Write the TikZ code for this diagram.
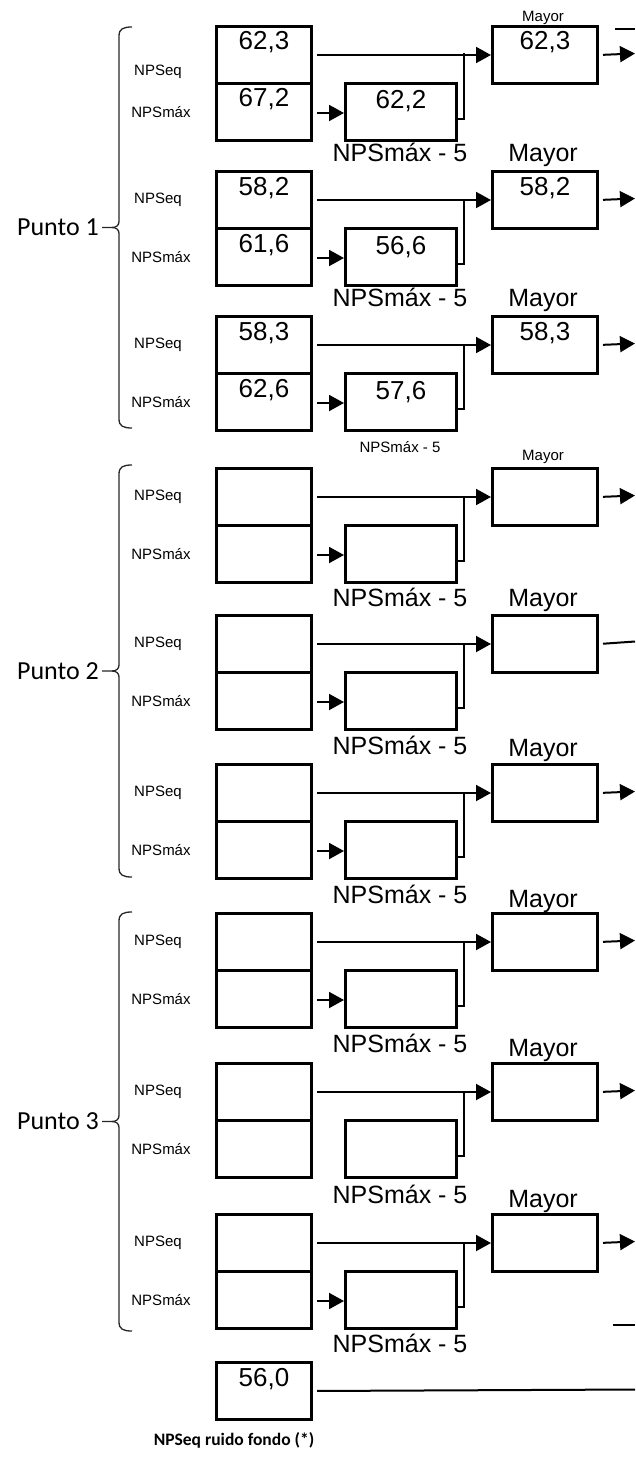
\documentclass[tikz,border=0pt]{standalone}
\usepackage{fontspec}
\setmainfont{Liberation Sans}
\newfontfamily\calibrifont{Carlito}
\usetikzlibrary{arrows.meta}
\newcommand\unitrow[7]{%
  \node[valbox] (#1e) at (215,#2) {};
  \node[valbox] (#1m) at (215,#2+57) {};
  \node[midbox] (#1r) at (344,#2+57) {};
  \node[maybox] (#1y) at (491,#2) {};
  \node[numtxt] (#1et) at ([yshift=-25pt]#1e.north) {#3};
  \node[numtxt] (#1mt) at ([yshift=-25pt]#1m.north) {#4};
  \node[numtxt] (#1rt) at ([yshift=-27pt]#1r.north) {#5};
  \node[numtxt] (#1yt) at ([yshift=-25pt]#1y.north) {#6};
  \coordinate (#1j) at (464,#2+28.5);
  \coordinate (#1k) at (464,#2+94);
  \coordinate (#1a) at (330,#2+88);
  \coordinate (#1o) at (635,#2+28.5);
  \draw[arr,shorten <=4pt] (#1e.east) -- (#1y.west);
  \draw[conn] (#1r.east |- #1k) -| (#1j);
  \node[sidetxt] (#1ls) at (158,#2+#7) {NPSeq};
  \node[sidetxt] (#1lm) at (161,#2+87) {NPSmáx};
}
\newcommand\midarrow[1]{\draw[arr,shorten <=4pt] (#1m.east |- #1a) -- (#1r.west |- #1a);}
\newcommand\outarrow[1]{\draw[arr,shorten <=4pt] (#1y.east) -- (#1o);}
\newcommand\outline[1]{\draw[conn,shorten <=4pt] (#1y.east) -- ([yshift=1pt]#1o);}
\newcommand\bracegroup[4]{%
  \pgfmathsetmacro\bmid{(#1+#2)/2}%
  \draw[brace] (132,#1) .. controls (123,#1) and (119,#1+2) .. (119,#1+9)
    -- (119,\bmid-6) .. controls (119,\bmid-2) and (116,\bmid) .. (112,\bmid)
    -- (102,\bmid);
  \draw[brace] (112,\bmid) .. controls (116,\bmid) and (119,\bmid+2) .. (119,\bmid+6)
    -- (119,#2-9) .. controls (119,#2-2) and (123,#2) .. (132,#2);
  \node[punto] (#3) at (99,\bmid) {#4};
}
\begin{document}
\begin{tikzpicture}[x=1pt,y=-1pt,
  boxst/.style={draw,line width=3pt,inner sep=0pt,anchor=north west,minimum height=57pt},
  valbox/.style={boxst,minimum width=95pt},
  midbox/.style={boxst,minimum width=111pt},
  maybox/.style={boxst,minimum width=105pt},
  numtxt/.style={font=\fontsize{26pt}{30pt}\selectfont,anchor=base,inner sep=0pt},
  bigtxt/.style={font=\fontsize{25pt}{30pt}\selectfont,anchor=base,inner sep=0pt},
  smalltxt/.style={font=\fontsize{15pt}{18pt}\selectfont,anchor=base,inner sep=0pt},
  sidetxt/.style={font=\fontsize{15pt}{18pt}\selectfont,inner sep=0pt},
  conn/.style={line width=2pt},
  arr/.style={conn,-{Triangle[length=15pt,width=16pt]}},
  brace/.style={line width=1.3pt,black!85},
  punto/.style={font=\calibrifont\fontsize{26pt}{30pt}\selectfont,anchor=east,inner sep=0pt},
  foot/.style={font=\calibrifont\bfseries\fontsize{17.5pt}{21pt}\selectfont,anchor=base,inner sep=0pt}
]
\useasboundingbox (0,0) rectangle (635,1461);

% Punto 1
\unitrow{a}{25}{62,3}{67,2}{62,2}{62,3}{47}
\unitrow{b}{170}{58,2}{61,6}{56,6}{58,2}{30}
\unitrow{c}{315}{58,3}{62,6}{57,6}{58,3}{30}
% Punto 2
\unitrow{d}{467}{}{}{}{}{30}
\unitrow{e}{614}{}{}{}{}{30}
\unitrow{f}{763}{}{}{}{}{30}
% Punto 3
\unitrow{g}{912}{}{}{}{}{30}
\unitrow{h}{1062}{}{}{}{}{30}
\unitrow{i}{1213}{}{}{}{}{30}

\foreach \r in {a,b,c,d,e,f,g,i} {\midarrow{\r}}
\foreach \r in {a,b,c,d,f,g,h,i} {\outarrow{\r}}
\outline{e}

% labels between rows
\node[smalltxt] (lm0) at (543,22) {Mayor};
\node[bigtxt] (ln1) at (400,161) {NPSmáx - 5};
\node[bigtxt] (lm1) at (543,161) {Mayor};
\node[bigtxt] (ln2) at (400,306) {NPSmáx - 5};
\node[bigtxt] (lm2) at (543,306) {Mayor};
\node[smalltxt] (ln3) at (400,452) {NPSmáx - 5};
\node[smalltxt] (lm3) at (543,460) {Mayor};
\node[bigtxt] (ln4) at (400,606) {NPSmáx - 5};
\node[bigtxt] (lm4) at (543,606) {Mayor};
\node[bigtxt] (ln5) at (400,754) {NPSmáx - 5};
\node[bigtxt] (lm5) at (543,756) {Mayor};
\node[bigtxt] (ln6) at (400,903) {NPSmáx - 5};
\node[bigtxt] (lm6) at (543,907) {Mayor};
\node[bigtxt] (ln7) at (400,1052) {NPSmáx - 5};
\node[bigtxt] (lm7) at (543,1056) {Mayor};
\node[bigtxt] (ln8) at (400,1203) {NPSmáx - 5};
\node[bigtxt] (lm8) at (543,1207) {Mayor};
\node[bigtxt] (ln9) at (400,1352) {NPSmáx - 5};

% braces
\bracegroup{27}{428}{p1}{Punto 1}
\bracegroup{465}{877}{p2}{Punto 2}
\bracegroup{912}{1331}{p3}{Punto 3}

% background noise box
\node[valbox] (z) at (215,1361) {};
\node[numtxt] (zt) at ([yshift=-25pt]z.north) {56,0};
\coordinate (zo) at (635,1389.5);
\draw[conn,shorten <=4pt] (z.east) -- (zo);
\node[foot] (ft) at (234,1445) {NPSeq ruido fondo (*)};

% short edge lines at right
\coordinate (r1a) at (615,29);
\coordinate (r1b) at (635,29);
\draw[conn] (r1a) -- (r1b);
\coordinate (r2a) at (613,1325);
\coordinate (r2b) at (635,1325);
\draw[conn] (r2a) -- (r2b);
\end{tikzpicture}
\end{document}
